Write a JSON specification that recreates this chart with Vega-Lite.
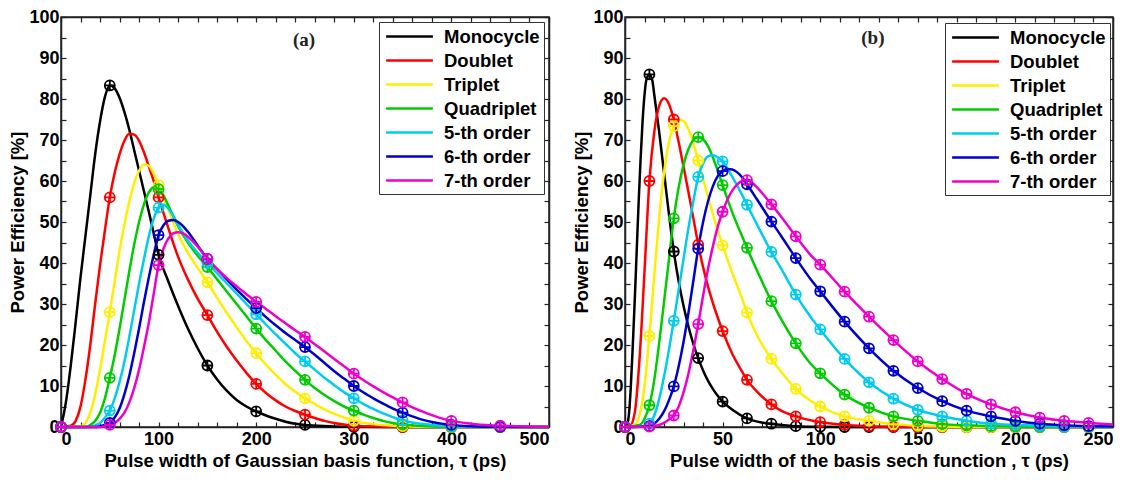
{
"$schema":"https://vega.github.io/schema/vega-lite/v6.json",
"background":"white",
"padding":{"left":8,"top":7,"right":5,"bottom":5},
"config":{
"view":{"stroke":"#222","strokeWidth":1.5},
"font":"Liberation Sans",
"axis":{"grid":false,"domainColor":"#222","domainWidth":1.5,"tickSize":-5,"tickColor":"#222","tickWidth":1.2,"labelFontSize":18,"labelFontWeight":"bold","labelColor":"black","labelPadding":6,"titleFontSize":18.5,"titleFontWeight":"bold","titleColor":"black","titlePadding":3},
"axisX":{"labelPadding":8},
"axisY":{"labelPadding":7},
"legend":{"title":null}
},
"datasets":{
"a":[
{"s":"Monocycle","t":0,"p":0,"m":1},{"s":"Monocycle","t":5,"p":6},{"s":"Monocycle","t":10,"p":15},{"s":"Monocycle","t":15,"p":25.5},{"s":"Monocycle","t":20,"p":36.5},{"s":"Monocycle","t":25,"p":46.5},{"s":"Monocycle","t":30,"p":56.5},{"s":"Monocycle","t":35,"p":66.5},{"s":"Monocycle","t":40,"p":74.5},{"s":"Monocycle","t":45,"p":80.5},{"s":"Monocycle","t":50,"p":83.3,"m":1},{"s":"Monocycle","t":55,"p":82.6},{"s":"Monocycle","t":60,"p":80.3},{"s":"Monocycle","t":65,"p":76.8},{"s":"Monocycle","t":70,"p":72.5},{"s":"Monocycle","t":75,"p":67.5},{"s":"Monocycle","t":80,"p":62.5},{"s":"Monocycle","t":85,"p":57.5},{"s":"Monocycle","t":90,"p":52.5},{"s":"Monocycle","t":95,"p":47.2},{"s":"Monocycle","t":100,"p":42,"m":1},{"s":"Monocycle","t":110,"p":35.5},{"s":"Monocycle","t":120,"p":29.5},{"s":"Monocycle","t":130,"p":24},{"s":"Monocycle","t":140,"p":19.2},{"s":"Monocycle","t":150,"p":15,"m":1},{"s":"Monocycle","t":160,"p":11.6},{"s":"Monocycle","t":170,"p":8.8},{"s":"Monocycle","t":180,"p":6.6},{"s":"Monocycle","t":190,"p":5},{"s":"Monocycle","t":200,"p":3.8,"m":1},{"s":"Monocycle","t":210,"p":2.8},{"s":"Monocycle","t":220,"p":2},{"s":"Monocycle","t":230,"p":1.3},{"s":"Monocycle","t":240,"p":0.8},{"s":"Monocycle","t":250,"p":0.5,"m":1},{"s":"Monocycle","t":275,"p":0.2},{"s":"Monocycle","t":300,"p":0.05,"m":1},{"s":"Monocycle","t":350,"p":0,"m":1},{"s":"Monocycle","t":400,"p":0,"m":1},{"s":"Monocycle","t":450,"p":0,"m":1},{"s":"Monocycle","t":500,"p":0},
{"s":"Doublet","t":0,"p":0,"m":1},{"s":"Doublet","t":10,"p":0.3},{"s":"Doublet","t":15,"p":1.5},{"s":"Doublet","t":20,"p":5},{"s":"Doublet","t":25,"p":11.5},{"s":"Doublet","t":30,"p":20},{"s":"Doublet","t":35,"p":30},{"s":"Doublet","t":40,"p":39.5},{"s":"Doublet","t":45,"p":48},{"s":"Doublet","t":50,"p":56,"m":1},{"s":"Doublet","t":55,"p":62},{"s":"Doublet","t":60,"p":66.5},{"s":"Doublet","t":65,"p":69.8},{"s":"Doublet","t":70,"p":71.5},{"s":"Doublet","t":75,"p":71.3},{"s":"Doublet","t":80,"p":69.8},{"s":"Doublet","t":85,"p":67},{"s":"Doublet","t":90,"p":63.5},{"s":"Doublet","t":95,"p":60},{"s":"Doublet","t":100,"p":56,"m":1},{"s":"Doublet","t":110,"p":48.5},{"s":"Doublet","t":120,"p":41.5},{"s":"Doublet","t":130,"p":36},{"s":"Doublet","t":140,"p":31.3},{"s":"Doublet","t":150,"p":27.3,"m":1},{"s":"Doublet","t":160,"p":23.2},{"s":"Doublet","t":170,"p":19.5},{"s":"Doublet","t":180,"p":16.2},{"s":"Doublet","t":190,"p":13.2},{"s":"Doublet","t":200,"p":10.5,"m":1},{"s":"Doublet","t":210,"p":8.3},{"s":"Doublet","t":220,"p":6.5},{"s":"Doublet","t":230,"p":5},{"s":"Doublet","t":240,"p":3.9},{"s":"Doublet","t":250,"p":3,"m":1},{"s":"Doublet","t":260,"p":2.2},{"s":"Doublet","t":270,"p":1.5},{"s":"Doublet","t":280,"p":1},{"s":"Doublet","t":290,"p":0.6},{"s":"Doublet","t":300,"p":0.3,"m":1},{"s":"Doublet","t":325,"p":0.1},{"s":"Doublet","t":350,"p":0,"m":1},{"s":"Doublet","t":400,"p":0,"m":1},{"s":"Doublet","t":450,"p":0,"m":1},{"s":"Doublet","t":500,"p":0},
{"s":"Triplet","t":0,"p":0,"m":1},{"s":"Triplet","t":20,"p":0.2},{"s":"Triplet","t":25,"p":1},{"s":"Triplet","t":30,"p":3.5},{"s":"Triplet","t":35,"p":8},{"s":"Triplet","t":40,"p":14},{"s":"Triplet","t":45,"p":21},{"s":"Triplet","t":50,"p":28,"m":1},{"s":"Triplet","t":55,"p":35.5},{"s":"Triplet","t":60,"p":43},{"s":"Triplet","t":65,"p":49.5},{"s":"Triplet","t":70,"p":55},{"s":"Triplet","t":75,"p":59.5},{"s":"Triplet","t":80,"p":62.5},{"s":"Triplet","t":85,"p":64},{"s":"Triplet","t":90,"p":63.7},{"s":"Triplet","t":95,"p":61.8},{"s":"Triplet","t":100,"p":59,"m":1},{"s":"Triplet","t":110,"p":53},{"s":"Triplet","t":120,"p":47},{"s":"Triplet","t":130,"p":42.5},{"s":"Triplet","t":140,"p":38.8},{"s":"Triplet","t":150,"p":35.3,"m":1},{"s":"Triplet","t":160,"p":31.5},{"s":"Triplet","t":170,"p":27.8},{"s":"Triplet","t":180,"p":24.3},{"s":"Triplet","t":190,"p":21},{"s":"Triplet","t":200,"p":18,"m":1},{"s":"Triplet","t":210,"p":15.2},{"s":"Triplet","t":220,"p":12.7},{"s":"Triplet","t":230,"p":10.5},{"s":"Triplet","t":240,"p":8.6},{"s":"Triplet","t":250,"p":7,"m":1},{"s":"Triplet","t":260,"p":5.6},{"s":"Triplet","t":270,"p":4.3},{"s":"Triplet","t":280,"p":3.2},{"s":"Triplet","t":290,"p":2.3},{"s":"Triplet","t":300,"p":1.5,"m":1},{"s":"Triplet","t":320,"p":0.7},{"s":"Triplet","t":340,"p":0.3},{"s":"Triplet","t":350,"p":0.2,"m":1},{"s":"Triplet","t":375,"p":0.05},{"s":"Triplet","t":400,"p":0,"m":1},{"s":"Triplet","t":450,"p":0,"m":1},{"s":"Triplet","t":500,"p":0},
{"s":"Quadriplet","t":0,"p":0,"m":1},{"s":"Quadriplet","t":25,"p":0},{"s":"Quadriplet","t":30,"p":0.5},{"s":"Quadriplet","t":35,"p":1.5},{"s":"Quadriplet","t":40,"p":3.5},{"s":"Quadriplet","t":45,"p":7},{"s":"Quadriplet","t":50,"p":12,"m":1},{"s":"Quadriplet","t":55,"p":17.5},{"s":"Quadriplet","t":60,"p":24},{"s":"Quadriplet","t":65,"p":31},{"s":"Quadriplet","t":70,"p":38},{"s":"Quadriplet","t":75,"p":44.5},{"s":"Quadriplet","t":80,"p":50},{"s":"Quadriplet","t":85,"p":54.3},{"s":"Quadriplet","t":90,"p":57.2},{"s":"Quadriplet","t":95,"p":58.5},{"s":"Quadriplet","t":100,"p":58,"m":1},{"s":"Quadriplet","t":105,"p":56.5},{"s":"Quadriplet","t":110,"p":54},{"s":"Quadriplet","t":120,"p":49},{"s":"Quadriplet","t":130,"p":45},{"s":"Quadriplet","t":140,"p":41.8},{"s":"Quadriplet","t":150,"p":39,"m":1},{"s":"Quadriplet","t":160,"p":36},{"s":"Quadriplet","t":170,"p":33},{"s":"Quadriplet","t":180,"p":30},{"s":"Quadriplet","t":190,"p":27},{"s":"Quadriplet","t":200,"p":24,"m":1},{"s":"Quadriplet","t":210,"p":21.2},{"s":"Quadriplet","t":220,"p":18.6},{"s":"Quadriplet","t":230,"p":16},{"s":"Quadriplet","t":240,"p":13.7},{"s":"Quadriplet","t":250,"p":11.5,"m":1},{"s":"Quadriplet","t":260,"p":9.5},{"s":"Quadriplet","t":270,"p":7.8},{"s":"Quadriplet","t":280,"p":6.3},{"s":"Quadriplet","t":290,"p":5},{"s":"Quadriplet","t":300,"p":4,"m":1},{"s":"Quadriplet","t":310,"p":3},{"s":"Quadriplet","t":320,"p":2.2},{"s":"Quadriplet","t":330,"p":1.5},{"s":"Quadriplet","t":340,"p":1},{"s":"Quadriplet","t":350,"p":0.6,"m":1},{"s":"Quadriplet","t":375,"p":0.2},{"s":"Quadriplet","t":400,"p":0.05,"m":1},{"s":"Quadriplet","t":450,"p":0,"m":1},{"s":"Quadriplet","t":500,"p":0},
{"s":"5-th order","t":0,"p":0,"m":1},{"s":"5-th order","t":30,"p":0},{"s":"5-th order","t":35,"p":0.4},{"s":"5-th order","t":40,"p":1},{"s":"5-th order","t":45,"p":2.3},{"s":"5-th order","t":50,"p":4,"m":1},{"s":"5-th order","t":55,"p":7},{"s":"5-th order","t":60,"p":11},{"s":"5-th order","t":65,"p":16},{"s":"5-th order","t":70,"p":22},{"s":"5-th order","t":75,"p":28.5},{"s":"5-th order","t":80,"p":35},{"s":"5-th order","t":85,"p":41},{"s":"5-th order","t":90,"p":46.5},{"s":"5-th order","t":95,"p":50.8},{"s":"5-th order","t":100,"p":53.5,"m":1},{"s":"5-th order","t":105,"p":54.2},{"s":"5-th order","t":110,"p":53.3},{"s":"5-th order","t":115,"p":51.5},{"s":"5-th order","t":120,"p":49.3},{"s":"5-th order","t":130,"p":45.5},{"s":"5-th order","t":140,"p":42.5},{"s":"5-th order","t":150,"p":40,"m":1},{"s":"5-th order","t":160,"p":37.5},{"s":"5-th order","t":170,"p":35},{"s":"5-th order","t":180,"p":32.5},{"s":"5-th order","t":190,"p":30},{"s":"5-th order","t":200,"p":27.5,"m":1},{"s":"5-th order","t":210,"p":25},{"s":"5-th order","t":220,"p":22.6},{"s":"5-th order","t":230,"p":20.3},{"s":"5-th order","t":240,"p":18},{"s":"5-th order","t":250,"p":16,"m":1},{"s":"5-th order","t":260,"p":14},{"s":"5-th order","t":270,"p":12},{"s":"5-th order","t":280,"p":10.2},{"s":"5-th order","t":290,"p":8.5},{"s":"5-th order","t":300,"p":7,"m":1},{"s":"5-th order","t":310,"p":5.6},{"s":"5-th order","t":320,"p":4.4},{"s":"5-th order","t":330,"p":3.3},{"s":"5-th order","t":340,"p":2.4},{"s":"5-th order","t":350,"p":1.6,"m":1},{"s":"5-th order","t":360,"p":1.1},{"s":"5-th order","t":380,"p":0.5},{"s":"5-th order","t":400,"p":0.2,"m":1},{"s":"5-th order","t":425,"p":0.05},{"s":"5-th order","t":450,"p":0,"m":1},{"s":"5-th order","t":500,"p":0},
{"s":"6-th order","t":0,"p":0,"m":1},{"s":"6-th order","t":35,"p":0},{"s":"6-th order","t":40,"p":0.2},{"s":"6-th order","t":45,"p":0.5},{"s":"6-th order","t":50,"p":1,"m":1},{"s":"6-th order","t":55,"p":2.3},{"s":"6-th order","t":60,"p":4.5},{"s":"6-th order","t":65,"p":8},{"s":"6-th order","t":70,"p":12.5},{"s":"6-th order","t":75,"p":18},{"s":"6-th order","t":80,"p":24},{"s":"6-th order","t":85,"p":30.5},{"s":"6-th order","t":90,"p":36.5},{"s":"6-th order","t":95,"p":42},{"s":"6-th order","t":100,"p":46.8,"m":1},{"s":"6-th order","t":105,"p":49.2},{"s":"6-th order","t":110,"p":50.3},{"s":"6-th order","t":115,"p":50.5},{"s":"6-th order","t":120,"p":50},{"s":"6-th order","t":125,"p":49},{"s":"6-th order","t":130,"p":47.6},{"s":"6-th order","t":140,"p":44.3},{"s":"6-th order","t":150,"p":41,"m":1},{"s":"6-th order","t":160,"p":38.5},{"s":"6-th order","t":170,"p":36},{"s":"6-th order","t":180,"p":33.5},{"s":"6-th order","t":190,"p":31.2},{"s":"6-th order","t":200,"p":29,"m":1},{"s":"6-th order","t":210,"p":26.8},{"s":"6-th order","t":220,"p":24.8},{"s":"6-th order","t":230,"p":22.9},{"s":"6-th order","t":240,"p":21.2},{"s":"6-th order","t":250,"p":19.5,"m":1},{"s":"6-th order","t":260,"p":17.6},{"s":"6-th order","t":270,"p":15.6},{"s":"6-th order","t":280,"p":13.6},{"s":"6-th order","t":290,"p":11.8},{"s":"6-th order","t":300,"p":10,"m":1},{"s":"6-th order","t":310,"p":8.4},{"s":"6-th order","t":320,"p":7},{"s":"6-th order","t":330,"p":5.7},{"s":"6-th order","t":340,"p":4.5},{"s":"6-th order","t":350,"p":3.5,"m":1},{"s":"6-th order","t":360,"p":2.6},{"s":"6-th order","t":370,"p":1.8},{"s":"6-th order","t":380,"p":1.2},{"s":"6-th order","t":390,"p":0.8},{"s":"6-th order","t":400,"p":0.5,"m":1},{"s":"6-th order","t":420,"p":0.2},{"s":"6-th order","t":450,"p":0.05,"m":1},{"s":"6-th order","t":500,"p":0},
{"s":"7-th order","t":0,"p":0,"m":1},{"s":"7-th order","t":40,"p":0},{"s":"7-th order","t":45,"p":0.2},{"s":"7-th order","t":50,"p":0.5,"m":1},{"s":"7-th order","t":55,"p":1},{"s":"7-th order","t":60,"p":2},{"s":"7-th order","t":65,"p":3.5},{"s":"7-th order","t":70,"p":6},{"s":"7-th order","t":75,"p":9.5},{"s":"7-th order","t":80,"p":14},{"s":"7-th order","t":85,"p":19.5},{"s":"7-th order","t":90,"p":25.5},{"s":"7-th order","t":95,"p":32.5},{"s":"7-th order","t":100,"p":39.5,"m":1},{"s":"7-th order","t":105,"p":43.5},{"s":"7-th order","t":110,"p":46},{"s":"7-th order","t":115,"p":47.2},{"s":"7-th order","t":120,"p":47.5},{"s":"7-th order","t":125,"p":47.2},{"s":"7-th order","t":130,"p":46.4},{"s":"7-th order","t":140,"p":44},{"s":"7-th order","t":150,"p":41,"m":1},{"s":"7-th order","t":160,"p":38.5},{"s":"7-th order","t":170,"p":36.3},{"s":"7-th order","t":180,"p":34.3},{"s":"7-th order","t":190,"p":32.4},{"s":"7-th order","t":200,"p":30.5,"m":1},{"s":"7-th order","t":210,"p":28.8},{"s":"7-th order","t":220,"p":27},{"s":"7-th order","t":230,"p":25.3},{"s":"7-th order","t":240,"p":23.6},{"s":"7-th order","t":250,"p":22,"m":1},{"s":"7-th order","t":260,"p":20.2},{"s":"7-th order","t":270,"p":18.4},{"s":"7-th order","t":280,"p":16.6},{"s":"7-th order","t":290,"p":14.8},{"s":"7-th order","t":300,"p":13,"m":1},{"s":"7-th order","t":310,"p":11.4},{"s":"7-th order","t":320,"p":9.9},{"s":"7-th order","t":330,"p":8.5},{"s":"7-th order","t":340,"p":7.2},{"s":"7-th order","t":350,"p":6,"m":1},{"s":"7-th order","t":360,"p":4.8},{"s":"7-th order","t":370,"p":3.8},{"s":"7-th order","t":380,"p":2.9},{"s":"7-th order","t":390,"p":2.1},{"s":"7-th order","t":400,"p":1.5,"m":1},{"s":"7-th order","t":420,"p":0.8},{"s":"7-th order","t":440,"p":0.4},{"s":"7-th order","t":450,"p":0.3,"m":1},{"s":"7-th order","t":475,"p":0.1},{"s":"7-th order","t":500,"p":0}
],
"b":[
{"s":"Monocycle","t":0,"p":0,"m":1},{"s":"Monocycle","t":1,"p":0.5},{"s":"Monocycle","t":2,"p":3},{"s":"Monocycle","t":3,"p":10},{"s":"Monocycle","t":4,"p":20},{"s":"Monocycle","t":5,"p":31},{"s":"Monocycle","t":6,"p":43},{"s":"Monocycle","t":7,"p":55},{"s":"Monocycle","t":8,"p":65.5},{"s":"Monocycle","t":9,"p":74.5},{"s":"Monocycle","t":10,"p":81},{"s":"Monocycle","t":11,"p":84.8},{"s":"Monocycle","t":12.5,"p":86,"m":1},{"s":"Monocycle","t":14,"p":84.5},{"s":"Monocycle","t":15,"p":81},{"s":"Monocycle","t":17.5,"p":72},{"s":"Monocycle","t":20,"p":62},{"s":"Monocycle","t":22.5,"p":52},{"s":"Monocycle","t":25,"p":42.8,"m":1},{"s":"Monocycle","t":27.5,"p":35.5},{"s":"Monocycle","t":30,"p":29.5},{"s":"Monocycle","t":32.5,"p":24.5},{"s":"Monocycle","t":35,"p":20.3},{"s":"Monocycle","t":37.5,"p":16.8,"m":1},{"s":"Monocycle","t":40,"p":13.8},{"s":"Monocycle","t":42.5,"p":11.3},{"s":"Monocycle","t":45,"p":9.3},{"s":"Monocycle","t":47.5,"p":7.6},{"s":"Monocycle","t":50,"p":6.2,"m":1},{"s":"Monocycle","t":55,"p":4.2},{"s":"Monocycle","t":62.5,"p":2.1,"m":1},{"s":"Monocycle","t":70,"p":1.1},{"s":"Monocycle","t":75,"p":0.8,"m":1},{"s":"Monocycle","t":87.5,"p":0.2,"m":1},{"s":"Monocycle","t":100,"p":0.05,"m":1},{"s":"Monocycle","t":112.5,"p":0,"m":1},{"s":"Monocycle","t":125,"p":0,"m":1},{"s":"Monocycle","t":137.5,"p":0,"m":1},{"s":"Monocycle","t":150,"p":0,"m":1},{"s":"Monocycle","t":162.5,"p":0,"m":1},{"s":"Monocycle","t":175,"p":0,"m":1},{"s":"Monocycle","t":187.5,"p":0,"m":1},{"s":"Monocycle","t":200,"p":0,"m":1},{"s":"Monocycle","t":212.5,"p":0,"m":1},{"s":"Monocycle","t":225,"p":0,"m":1},{"s":"Monocycle","t":237.5,"p":0,"m":1},{"s":"Monocycle","t":250,"p":0},
{"s":"Doublet","t":0,"p":0,"m":1},{"s":"Doublet","t":2.5,"p":0.2},{"s":"Doublet","t":5,"p":3.5},{"s":"Doublet","t":7.5,"p":17},{"s":"Doublet","t":10,"p":38},{"s":"Doublet","t":12.5,"p":60,"m":1},{"s":"Doublet","t":15,"p":72},{"s":"Doublet","t":17.5,"p":78.3},{"s":"Doublet","t":20,"p":80.2},{"s":"Doublet","t":22.5,"p":78.8},{"s":"Doublet","t":25,"p":75,"m":1},{"s":"Doublet","t":27.5,"p":69.5},{"s":"Doublet","t":30,"p":63.5},{"s":"Doublet","t":32.5,"p":57.3},{"s":"Doublet","t":35,"p":51},{"s":"Doublet","t":37.5,"p":44.5,"m":1},{"s":"Doublet","t":40,"p":39},{"s":"Doublet","t":42.5,"p":34.3},{"s":"Doublet","t":45,"p":30.3},{"s":"Doublet","t":47.5,"p":26.7},{"s":"Doublet","t":50,"p":23.4,"m":1},{"s":"Doublet","t":55,"p":17.8},{"s":"Doublet","t":60,"p":13.5},{"s":"Doublet","t":62.5,"p":11.5,"m":1},{"s":"Doublet","t":67.5,"p":8.7},{"s":"Doublet","t":75,"p":5.5,"m":1},{"s":"Doublet","t":80,"p":4},{"s":"Doublet","t":87.5,"p":2.6,"m":1},{"s":"Doublet","t":100,"p":1.2,"m":1},{"s":"Doublet","t":112.5,"p":0.5,"m":1},{"s":"Doublet","t":125,"p":0.2,"m":1},{"s":"Doublet","t":137.5,"p":0.05,"m":1},{"s":"Doublet","t":150,"p":0,"m":1},{"s":"Doublet","t":162.5,"p":0,"m":1},{"s":"Doublet","t":175,"p":0,"m":1},{"s":"Doublet","t":187.5,"p":0,"m":1},{"s":"Doublet","t":200,"p":0,"m":1},{"s":"Doublet","t":212.5,"p":0,"m":1},{"s":"Doublet","t":225,"p":0,"m":1},{"s":"Doublet","t":237.5,"p":0,"m":1},{"s":"Doublet","t":250,"p":0},
{"s":"Triplet","t":0,"p":0,"m":1},{"s":"Triplet","t":5,"p":0.5},{"s":"Triplet","t":7.5,"p":3},{"s":"Triplet","t":10,"p":10},{"s":"Triplet","t":12.5,"p":22.2,"m":1},{"s":"Triplet","t":15,"p":37},{"s":"Triplet","t":17.5,"p":51},{"s":"Triplet","t":20,"p":62},{"s":"Triplet","t":22.5,"p":69.5},{"s":"Triplet","t":25,"p":73.4,"m":1},{"s":"Triplet","t":27.5,"p":75},{"s":"Triplet","t":30,"p":74.6},{"s":"Triplet","t":32.5,"p":72.6},{"s":"Triplet","t":35,"p":69.3},{"s":"Triplet","t":37.5,"p":65,"m":1},{"s":"Triplet","t":40,"p":60.5},{"s":"Triplet","t":42.5,"p":56.2},{"s":"Triplet","t":45,"p":52},{"s":"Triplet","t":47.5,"p":48},{"s":"Triplet","t":50,"p":44.3,"m":1},{"s":"Triplet","t":55,"p":37.5},{"s":"Triplet","t":60,"p":31.3},{"s":"Triplet","t":62.5,"p":27.9,"m":1},{"s":"Triplet","t":67.5,"p":22.5},{"s":"Triplet","t":75,"p":16.6,"m":1},{"s":"Triplet","t":80,"p":13.5},{"s":"Triplet","t":87.5,"p":9.3,"m":1},{"s":"Triplet","t":95,"p":6.4},{"s":"Triplet","t":100,"p":5,"m":1},{"s":"Triplet","t":112.5,"p":2.6,"m":1},{"s":"Triplet","t":125,"p":1.5,"m":1},{"s":"Triplet","t":137.5,"p":0.7,"m":1},{"s":"Triplet","t":150,"p":0.3,"m":1},{"s":"Triplet","t":162.5,"p":0.1,"m":1},{"s":"Triplet","t":175,"p":0,"m":1},{"s":"Triplet","t":187.5,"p":0,"m":1},{"s":"Triplet","t":200,"p":0,"m":1},{"s":"Triplet","t":212.5,"p":0,"m":1},{"s":"Triplet","t":225,"p":0,"m":1},{"s":"Triplet","t":237.5,"p":0,"m":1},{"s":"Triplet","t":250,"p":0},
{"s":"Quadriplet","t":0,"p":0,"m":1},{"s":"Quadriplet","t":7.5,"p":0.5},{"s":"Quadriplet","t":10,"p":2},{"s":"Quadriplet","t":12.5,"p":5.3,"m":1},{"s":"Quadriplet","t":15,"p":11.5},{"s":"Quadriplet","t":17.5,"p":20.5},{"s":"Quadriplet","t":20,"p":30.5},{"s":"Quadriplet","t":22.5,"p":40.8},{"s":"Quadriplet","t":25,"p":50.9,"m":1},{"s":"Quadriplet","t":27.5,"p":58.5},{"s":"Quadriplet","t":30,"p":64},{"s":"Quadriplet","t":32.5,"p":67.8},{"s":"Quadriplet","t":35,"p":70},{"s":"Quadriplet","t":37.5,"p":70.7,"m":1},{"s":"Quadriplet","t":40,"p":70.2},{"s":"Quadriplet","t":42.5,"p":68.5},{"s":"Quadriplet","t":45,"p":65.8},{"s":"Quadriplet","t":47.5,"p":62.5},{"s":"Quadriplet","t":50,"p":59,"m":1},{"s":"Quadriplet","t":55,"p":52.3},{"s":"Quadriplet","t":60,"p":46.5},{"s":"Quadriplet","t":62.5,"p":43.7,"m":1},{"s":"Quadriplet","t":67.5,"p":38.3},{"s":"Quadriplet","t":75,"p":30.7,"m":1},{"s":"Quadriplet","t":80,"p":26.3},{"s":"Quadriplet","t":87.5,"p":20.4,"m":1},{"s":"Quadriplet","t":95,"p":15.5},{"s":"Quadriplet","t":100,"p":13.1,"m":1},{"s":"Quadriplet","t":112.5,"p":7.9,"m":1},{"s":"Quadriplet","t":125,"p":4.7,"m":1},{"s":"Quadriplet","t":137.5,"p":2.6,"m":1},{"s":"Quadriplet","t":150,"p":1.5,"m":1},{"s":"Quadriplet","t":162.5,"p":0.7,"m":1},{"s":"Quadriplet","t":175,"p":0.4,"m":1},{"s":"Quadriplet","t":187.5,"p":0.2,"m":1},{"s":"Quadriplet","t":200,"p":0.1,"m":1},{"s":"Quadriplet","t":212.5,"p":0,"m":1},{"s":"Quadriplet","t":225,"p":0,"m":1},{"s":"Quadriplet","t":237.5,"p":0,"m":1},{"s":"Quadriplet","t":250,"p":0},
{"s":"5-th order","t":0,"p":0,"m":1},{"s":"5-th order","t":10,"p":0.2},{"s":"5-th order","t":12.5,"p":0.8,"m":1},{"s":"5-th order","t":15,"p":2.8},{"s":"5-th order","t":17.5,"p":6.8},{"s":"5-th order","t":20,"p":12.3},{"s":"5-th order","t":22.5,"p":18.8},{"s":"5-th order","t":25,"p":25.9,"m":1},{"s":"5-th order","t":27.5,"p":33.5},{"s":"5-th order","t":30,"p":41},{"s":"5-th order","t":32.5,"p":48.5},{"s":"5-th order","t":35,"p":55},{"s":"5-th order","t":37.5,"p":61,"m":1},{"s":"5-th order","t":40,"p":64.3},{"s":"5-th order","t":42.5,"p":66},{"s":"5-th order","t":45,"p":66.3},{"s":"5-th order","t":47.5,"p":65.8},{"s":"5-th order","t":50,"p":64.8,"m":1},{"s":"5-th order","t":55,"p":61},{"s":"5-th order","t":60,"p":56.6},{"s":"5-th order","t":62.5,"p":54.2,"m":1},{"s":"5-th order","t":67.5,"p":49.5},{"s":"5-th order","t":75,"p":42.7,"m":1},{"s":"5-th order","t":80,"p":38.6},{"s":"5-th order","t":87.5,"p":32.3,"m":1},{"s":"5-th order","t":95,"p":26.9},{"s":"5-th order","t":100,"p":23.8,"m":1},{"s":"5-th order","t":112.5,"p":16.6,"m":1},{"s":"5-th order","t":125,"p":10.9,"m":1},{"s":"5-th order","t":137.5,"p":6.9,"m":1},{"s":"5-th order","t":150,"p":4.2,"m":1},{"s":"5-th order","t":162.5,"p":2.6,"m":1},{"s":"5-th order","t":175,"p":1.5,"m":1},{"s":"5-th order","t":187.5,"p":0.8,"m":1},{"s":"5-th order","t":200,"p":0.5,"m":1},{"s":"5-th order","t":212.5,"p":0.3,"m":1},{"s":"5-th order","t":225,"p":0.1,"m":1},{"s":"5-th order","t":237.5,"p":0.05,"m":1},{"s":"5-th order","t":250,"p":0},
{"s":"6-th order","t":0,"p":0,"m":1},{"s":"6-th order","t":12.5,"p":0.2,"m":1},{"s":"6-th order","t":15,"p":0.8},{"s":"6-th order","t":17.5,"p":2},{"s":"6-th order","t":20,"p":3.8},{"s":"6-th order","t":22.5,"p":6.5},{"s":"6-th order","t":25,"p":9.9,"m":1},{"s":"6-th order","t":27.5,"p":14.8},{"s":"6-th order","t":30,"p":20.8},{"s":"6-th order","t":32.5,"p":27.8},{"s":"6-th order","t":35,"p":35.6},{"s":"6-th order","t":37.5,"p":43.5,"m":1},{"s":"6-th order","t":40,"p":50},{"s":"6-th order","t":42.5,"p":55},{"s":"6-th order","t":45,"p":58.7},{"s":"6-th order","t":47.5,"p":61.2},{"s":"6-th order","t":50,"p":62.4,"m":1},{"s":"6-th order","t":52.5,"p":62.9},{"s":"6-th order","t":55,"p":62.8},{"s":"6-th order","t":57.5,"p":62.1},{"s":"6-th order","t":60,"p":60.9},{"s":"6-th order","t":62.5,"p":59.2,"m":1},{"s":"6-th order","t":67.5,"p":55.6},{"s":"6-th order","t":75,"p":50.1,"m":1},{"s":"6-th order","t":80,"p":46.6},{"s":"6-th order","t":87.5,"p":41.2,"m":1},{"s":"6-th order","t":95,"p":36.1},{"s":"6-th order","t":100,"p":33.1,"m":1},{"s":"6-th order","t":112.5,"p":25.7,"m":1},{"s":"6-th order","t":125,"p":19.2,"m":1},{"s":"6-th order","t":137.5,"p":13.7,"m":1},{"s":"6-th order","t":150,"p":9.5,"m":1},{"s":"6-th order","t":162.5,"p":6.3,"m":1},{"s":"6-th order","t":175,"p":4,"m":1},{"s":"6-th order","t":187.5,"p":2.6,"m":1},{"s":"6-th order","t":200,"p":1.5,"m":1},{"s":"6-th order","t":212.5,"p":0.8,"m":1},{"s":"6-th order","t":225,"p":0.4,"m":1},{"s":"6-th order","t":237.5,"p":0.2,"m":1},{"s":"6-th order","t":250,"p":0.1},
{"s":"7-th order","t":0,"p":0,"m":1},{"s":"7-th order","t":12.5,"p":0.1,"m":1},{"s":"7-th order","t":17.5,"p":0.5},{"s":"7-th order","t":20,"p":1},{"s":"7-th order","t":22.5,"p":1.8},{"s":"7-th order","t":25,"p":2.8,"m":1},{"s":"7-th order","t":27.5,"p":5},{"s":"7-th order","t":30,"p":8.5},{"s":"7-th order","t":32.5,"p":13},{"s":"7-th order","t":35,"p":18.7},{"s":"7-th order","t":37.5,"p":25.1,"m":1},{"s":"7-th order","t":40,"p":32},{"s":"7-th order","t":42.5,"p":38.5},{"s":"7-th order","t":45,"p":44},{"s":"7-th order","t":47.5,"p":48.8},{"s":"7-th order","t":50,"p":52.5,"m":1},{"s":"7-th order","t":52.5,"p":55.5},{"s":"7-th order","t":55,"p":57.7},{"s":"7-th order","t":57.5,"p":59.2},{"s":"7-th order","t":60,"p":60},{"s":"7-th order","t":62.5,"p":60.2,"m":1},{"s":"7-th order","t":65,"p":59.6},{"s":"7-th order","t":67.5,"p":58.5},{"s":"7-th order","t":70,"p":57.2},{"s":"7-th order","t":75,"p":54.3,"m":1},{"s":"7-th order","t":80,"p":51.3},{"s":"7-th order","t":87.5,"p":46.5,"m":1},{"s":"7-th order","t":95,"p":42},{"s":"7-th order","t":100,"p":39.6,"m":1},{"s":"7-th order","t":112.5,"p":33,"m":1},{"s":"7-th order","t":125,"p":26.9,"m":1},{"s":"7-th order","t":137.5,"p":21.2,"m":1},{"s":"7-th order","t":150,"p":16,"m":1},{"s":"7-th order","t":162.5,"p":11.7,"m":1},{"s":"7-th order","t":175,"p":8.1,"m":1},{"s":"7-th order","t":187.5,"p":5.5,"m":1},{"s":"7-th order","t":200,"p":3.6,"m":1},{"s":"7-th order","t":212.5,"p":2.3,"m":1},{"s":"7-th order","t":225,"p":1.5,"m":1},{"s":"7-th order","t":237.5,"p":1,"m":1},{"s":"7-th order","t":250,"p":0.6}
]
},
"spacing":17,
"hconcat":[
{
"width":488,"height":410,
"data":{"name":"a"},
"layer":[
{"mark":{"type":"line","strokeWidth":2.5,"interpolate":"monotone"},
"encoding":{
"x":{"field":"t","type":"quantitative","scale":{"domain":[0,500],"nice":false},"axis":{"title":"Pulse width of Gaussian basis function, τ (ps)","values":[0,20,40,60,80,100,120,140,160,180,200,220,240,260,280,300,320,340,360,380,400,420,440,460,480,500],"labelExpr":"datum.value % 100 === 0 ? datum.label : ''"}},
"y":{"field":"p","type":"quantitative","scale":{"domain":[0,100],"nice":false},"axis":{"title":"Power Efficiency [%]","titlePadding":1,"values":[0,5,10,15,20,25,30,35,40,45,50,55,60,65,70,75,80,85,90,95,100],"labelExpr":"datum.value % 10 === 0 ? datum.label : ''"}},
"color":{"field":"s","type":"nominal","scale":{"domain":["Monocycle","Doublet","Triplet","Quadriplet","5-th order","6-th order","7-th order"],"range":["#000000","#ff0000","#ffee00","#00cc00","#00ccee","#0000cc","#ee00cc"]},
"legend":{"orient":"none","legendX":318,"legendY":5,"symbolType":"M-2.6,0L2.6,0","symbolSize":324,"symbolStrokeWidth":2.5,"symbolOffset":16,"labelOffset":24,"labelFontSize":18.5,"labelFontWeight":"bold","labelColor":"black","rowPadding":4,"padding":4,"strokeColor":"#333","fillColor":"white"}}
}},
{"transform":[{"filter":"datum.m === 1"}],
"mark":{"type":"point","shape":"M-1,0A1,1,0,1,1,1,0A1,1,0,1,1,-1,0M-1,0L1,0M0,-1L0,1","filled":false,"strokeWidth":1.8,"size":100,"opacity":1},
"encoding":{
"x":{"field":"t","type":"quantitative","axis":{"orient":"top","labels":false,"title":null,"values":[0,20,40,60,80,100,120,140,160,180,200,220,240,260,280,300,320,340,360,380,400,420,440,460,480,500]}},
"y":{"field":"p","type":"quantitative","axis":{"orient":"right","labels":false,"title":null,"values":[0,5,10,15,20,25,30,35,40,45,50,55,60,65,70,75,80,85,90,95,100]}},
"color":{"field":"s","type":"nominal","legend":null}
}},
{"data":{"values":[{"t":249,"p":94.4,"label":"(a)"}]},
"mark":{"type":"text","font":"Liberation Serif","fontWeight":"bold","fontSize":19,"align":"center","baseline":"middle","color":"#222"},
"encoding":{"x":{"field":"t","type":"quantitative","axis":null},"y":{"field":"p","type":"quantitative","axis":null},"text":{"field":"label"}}}
],
"resolve":{"axis":{"x":"independent","y":"independent"}}
},
{
"width":488,"height":410,
"data":{"name":"b"},
"layer":[
{"mark":{"type":"line","strokeWidth":2.5,"interpolate":"monotone"},
"encoding":{
"x":{"field":"t","type":"quantitative","scale":{"domain":[0,250],"nice":false},"axis":{"title":"Pulse width of the basis sech function , τ (ps)","values":[0,10,20,30,40,50,60,70,80,90,100,110,120,130,140,150,160,170,180,190,200,210,220,230,240,250],"labelExpr":"datum.value % 50 === 0 ? datum.label : ''"}},
"y":{"field":"p","type":"quantitative","scale":{"domain":[0,100],"nice":false},"axis":{"title":"Power Efficiency [%]","titlePadding":1,"values":[0,5,10,15,20,25,30,35,40,45,50,55,60,65,70,75,80,85,90,95,100],"labelExpr":"datum.value % 10 === 0 ? datum.label : ''"}},
"color":{"field":"s","type":"nominal","scale":{"domain":["Monocycle","Doublet","Triplet","Quadriplet","5-th order","6-th order","7-th order"],"range":["#000000","#ff0000","#ffee00","#00cc00","#00ccee","#0000cc","#ee00cc"]},
"legend":{"orient":"none","legendX":320,"legendY":6,"symbolType":"M-2.6,0L2.6,0","symbolSize":324,"symbolStrokeWidth":2.5,"symbolOffset":16,"labelOffset":24,"labelFontSize":18.5,"labelFontWeight":"bold","labelColor":"black","rowPadding":4,"padding":4,"strokeColor":"#333","fillColor":"white"}}
}},
{"transform":[{"filter":"datum.m === 1"}],
"mark":{"type":"point","shape":"M-1,0A1,1,0,1,1,1,0A1,1,0,1,1,-1,0M-1,0L1,0M0,-1L0,1","filled":false,"strokeWidth":1.8,"size":100,"opacity":1},
"encoding":{
"x":{"field":"t","type":"quantitative","axis":{"orient":"top","labels":false,"title":null,"values":[0,10,20,30,40,50,60,70,80,90,100,110,120,130,140,150,160,170,180,190,200,210,220,230,240,250]}},
"y":{"field":"p","type":"quantitative","axis":{"orient":"right","labels":false,"title":null,"values":[0,5,10,15,20,25,30,35,40,45,50,55,60,65,70,75,80,85,90,95,100]}},
"color":{"field":"s","type":"nominal","legend":null}
}},
{"data":{"values":[{"t":127,"p":94.9,"label":"(b)"}]},
"mark":{"type":"text","font":"Liberation Serif","fontWeight":"bold","fontSize":19,"align":"center","baseline":"middle","color":"#222"},
"encoding":{"x":{"field":"t","type":"quantitative","axis":null},"y":{"field":"p","type":"quantitative","axis":null},"text":{"field":"label"}}}
],
"resolve":{"axis":{"x":"independent","y":"independent"}}
}
],
"resolve":{"scale":{"color":"independent"},"legend":{"color":"independent"}}
}
